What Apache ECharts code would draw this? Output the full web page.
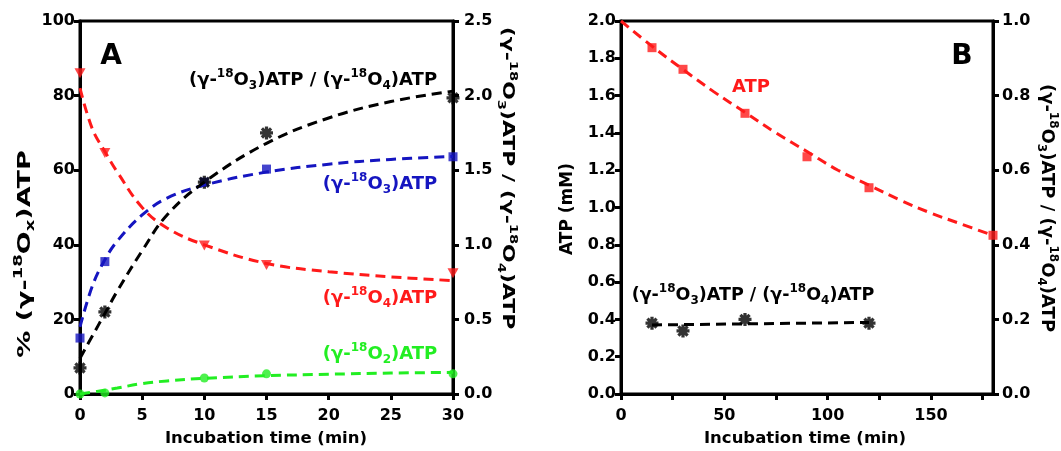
<!DOCTYPE html>
<html>
<head>
<meta charset="utf-8">
<script src="https://cdn.jsdelivr.net/npm/echarts@6/dist/echarts.min.js"></script>
<style>
  html, body { margin: 0; padding: 0; background: #fff; }
  #chart { width: 1061px; height: 451px; }
</style>
</head>
<body>
<div id="chart"></div>
<script>
// panel A: measured points
var timeA = [0, 2, 10, 15, 30];
var o4Pts = [86, 64.6, 39.8, 34.6, 32.4];
var o3Pts = [15, 35.5, 56.8, 60.3, 63.6];
var o2Pts = [0, 0.3, 4.3, 5.4, 5.4];
var ratioPtsA = [0.175, 0.55, 1.42, 1.75, 1.985];

// panel A: fitted curves
var fitTimeA = [0, 1, 2, 3, 5, 7, 10, 15, 20, 25, 30];
var o4Fit = [82, 71, 65, 59.5, 50, 44.5, 40, 35, 32.8, 31.4, 30.4];
var o3Fit = [18, 29, 36, 41, 48, 52.5, 56, 59.5, 61.6, 62.9, 63.7];
var o2Fit = [0, 0.5, 1.0, 1.6, 2.8, 3.5, 4.2, 4.9, 5.3, 5.6, 5.8];
var ratioFitA = [0.24, 0.39, 0.54, 0.69, 0.96, 1.2, 1.42, 1.68, 1.85, 1.96, 2.03];

// panel B
var atpTime = [15, 30, 60, 90, 120, 180];
var atpPts = [1.857, 1.741, 1.505, 1.272, 1.106, 0.851];
var atpFitTime = [0, 15, 30, 45, 60, 75, 90, 105, 120, 135, 150, 165, 180];
var atpFit = [2.0, 1.865, 1.74, 1.62, 1.51, 1.40, 1.30, 1.20, 1.12, 1.04, 0.97, 0.91, 0.85];
var ratioTimeB = [15, 30, 60, 120];
var ratioPtsB = [0.19, 0.169, 0.2, 0.19];
var ratioFitTimeB = [15, 120];
var ratioFitB = [0.185, 0.192];
var xTicksB = [0, 25, 50, 75, 100, 125, 150, 175];
var xLabelsB = [0, 50, 100, 150];

var RED = '#ff1a1a', BLUE = '#1515c0', GREEN = '#22ee22', BLACK = '#000';
var FONT = '"DejaVu Sans", sans-serif';
// asterisk marker: four crossing bars
var STAR = 'path://M-1.5,-6L1.5,-6L1.5,6L-1.5,6Z M-6,-1.5L6,-1.5L6,1.5L-6,1.5Z M-3.2,-5.3L5.3,3.2L3.2,5.3L-5.3,-3.2Z M3.2,-5.3L5.3,-3.2L-3.2,5.3L-5.3,3.2Z';

function pairs(xs, ys) {
  return xs.map(function (x, i) { return [x, ys[i]]; });
}

var chart = echarts.init(document.getElementById('chart'));

function labelStyle(margin, extra) {
  var l = { color: BLACK, fontFamily: FONT, fontWeight: 'bold', fontSize: 16, margin: margin };
  for (var k in extra) l[k] = extra[k];
  return l;
}
function axisStyle(extra) {
  var a = {
    axisLine: { show: true, onZero: false, lineStyle: { color: BLACK, width: 3 } },
    axisTick: { show: true, inside: false, length: 6, lineStyle: { color: BLACK, width: 3 } },
    axisLabel: labelStyle(5),
    splitLine: { show: false }
  };
  for (var k in extra) a[k] = extra[k];
  return a;
}
function fixed1(v) { return v.toFixed(1); }

// rich text styles for sub/superscripts
function rich(size, color) {
  var s = Math.round(size * 0.68);
  return {
    b: { fontSize: size, fontWeight: 'bold', fontFamily: FONT, color: color, lineHeight: size + 6 },
    sup: { fontSize: s, fontWeight: 'bold', fontFamily: FONT, color: color, verticalAlign: 'top', lineHeight: s },
    sub: { fontSize: s, fontWeight: 'bold', fontFamily: FONT, color: color, verticalAlign: 'bottom', lineHeight: s }
  };
}
var RATIO = '{b|(γ-}{sup|18}{b|O}{sub|3}{b|)ATP / (γ-}{sup|18}{b|O}{sub|4}{b|)ATP}';
function label(n) { return '{b|(γ-}{sup|18}{b|O}{sub|' + n + '}{b|)ATP}'; }

function txt(x, y, text, size, color, opts) {
  var e = {
    type: 'text', x: x, y: y, z: 100,
    style: { text: text, rich: rich(size, color), align: 'center', verticalAlign: 'middle', font: 'bold ' + size + 'px ' + FONT, fill: color }
  };
  if (opts) for (var k in opts) e[k] = opts[k];
  return e;
}

var dash = [10, 6];

var option = {
  animation: false,
  backgroundColor: '#fff',
  grid: [
    { left: 80, right: 608, top: 21, bottom: 57, show: true, borderColor: BLACK, borderWidth: 3, backgroundColor: 'transparent' },
    { left: 621, right: 68, top: 21, bottom: 57, show: true, borderColor: BLACK, borderWidth: 3, backgroundColor: 'transparent' }
  ],
  xAxis: [
    axisStyle({ type: 'value', gridIndex: 0, min: 0, max: 30, interval: 5, position: 'bottom', axisLabel: labelStyle(14) }),
    axisStyle({ type: 'value', gridIndex: 1, min: 0, max: 180, interval: 25, position: 'bottom',
      axisTick: { show: true, inside: false, length: 6, customValues: xTicksB, lineStyle: { color: BLACK, width: 3 } },
      axisLabel: labelStyle(14, { customValues: xLabelsB }) })
  ],
  yAxis: [
    axisStyle({ type: 'value', gridIndex: 0, min: 0, max: 100, interval: 20, position: 'left' }),
    axisStyle({ type: 'value', gridIndex: 0, min: 0, max: 2.5, interval: 0.5, position: 'right', axisLabel: labelStyle(11, { formatter: fixed1 }) }),
    axisStyle({ type: 'value', gridIndex: 1, min: 0, max: 2, interval: 0.2, position: 'left', axisLabel: labelStyle(5, { formatter: fixed1 }) }),
    axisStyle({ type: 'value', gridIndex: 1, min: 0, max: 1, interval: 0.2, position: 'right', axisLabel: labelStyle(9, { formatter: fixed1 }) })
  ],
  series: [
    // panel A fits
    { type: 'line', xAxisIndex: 0, yAxisIndex: 0, data: pairs(fitTimeA, o4Fit), smooth: 0.4, showSymbol: false, lineStyle: { color: RED, width: 3, type: dash } },
    { type: 'line', xAxisIndex: 0, yAxisIndex: 0, data: pairs(fitTimeA, o3Fit), smooth: 0.4, showSymbol: false, lineStyle: { color: BLUE, width: 3, type: dash } },
    { type: 'line', xAxisIndex: 0, yAxisIndex: 0, data: pairs(fitTimeA, o2Fit), smooth: 0.4, showSymbol: false, lineStyle: { color: GREEN, width: 3, type: dash } },
    { type: 'line', xAxisIndex: 0, yAxisIndex: 1, data: pairs(fitTimeA, ratioFitA), smooth: 0.4, showSymbol: false, lineStyle: { color: BLACK, width: 3, type: dash } },
    // panel A points
    { type: 'scatter', xAxisIndex: 0, yAxisIndex: 0, data: pairs(timeA, o4Pts), symbol: 'triangle', symbolRotate: 180, symbolSize: [11, 10], itemStyle: { color: RED } },
    { type: 'scatter', xAxisIndex: 0, yAxisIndex: 0, data: pairs(timeA, o3Pts), symbol: 'rect', symbolSize: 9, itemStyle: { color: BLUE } },
    { type: 'scatter', xAxisIndex: 0, yAxisIndex: 0, data: pairs(timeA, o2Pts), symbol: 'circle', symbolSize: 9, itemStyle: { color: GREEN } },
    { type: 'scatter', xAxisIndex: 0, yAxisIndex: 1, data: pairs(timeA, ratioPtsA), symbol: STAR, symbolSize: 13, itemStyle: { color: BLACK } },
    // panel B
    { type: 'line', xAxisIndex: 1, yAxisIndex: 2, data: pairs(atpFitTime, atpFit), smooth: 0.4, showSymbol: false, lineStyle: { color: RED, width: 3, type: dash } },
    { type: 'scatter', xAxisIndex: 1, yAxisIndex: 2, data: pairs(atpTime, atpPts), symbol: 'rect', symbolSize: 9, itemStyle: { color: RED } },
    { type: 'line', xAxisIndex: 1, yAxisIndex: 3, data: pairs(ratioFitTimeB, ratioFitB), showSymbol: false, lineStyle: { color: BLACK, width: 3, type: dash } },
    { type: 'scatter', xAxisIndex: 1, yAxisIndex: 3, data: pairs(ratioTimeB, ratioPtsB), symbol: STAR, symbolSize: 13, itemStyle: { color: BLACK } }
  ],
  graphic: [
    txt(111, 57, '{b|A}', 28, BLACK),
    txt(962, 57, '{b|B}', 28, BLACK),
    txt(313, 80, RATIO, 18, BLACK),
    txt(380, 184, label(3), 18, BLUE),
    txt(380, 298, label(4), 18, RED),
    txt(380, 354, label(2), 18, GREEN),
    txt(751, 87, '{b|ATP}', 18, RED),
    txt(753, 295, RATIO, 17.5, BLACK),
    // axis titles
    txt(266, 439, '{b|Incubation time (min)}', 16.5, BLACK),
    txt(805, 439, '{b|Incubation time (min)}', 16.5, BLACK),
    txt(25, 254, '{b|% (γ-}{sup|18}{b|O}{sub|x}{b|)ATP}', 18, BLACK, { rotation: Math.PI / 2, scaleX: 1.5 }),
    txt(507, 178, RATIO, 16.5, BLACK, { rotation: -Math.PI / 2, scaleX: 1.33 }),
    txt(568, 209, '{b|ATP (mM)}', 17, BLACK, { rotation: Math.PI / 2 }),
    txt(1047, 208, RATIO, 18, BLACK, { rotation: -Math.PI / 2 })
  ]
};

chart.setOption(option);
</script>
</body>
</html>
